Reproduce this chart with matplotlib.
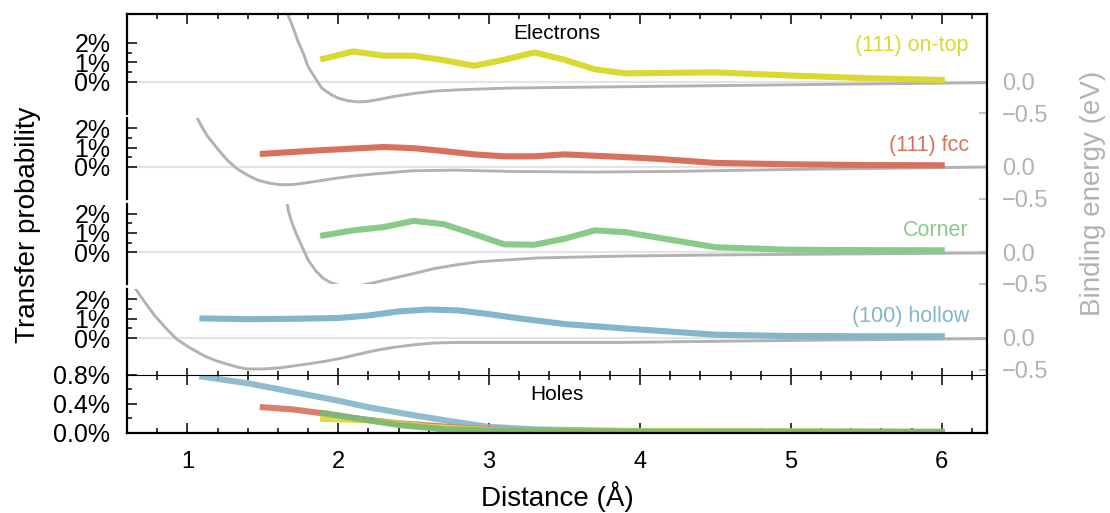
import matplotlib
matplotlib.use("Agg")
import matplotlib.pyplot as plt
from matplotlib.lines import Line2D
from matplotlib.ticker import FixedLocator, FuncFormatter

plt.rcParams['font.family'] = ['Liberation Sans', 'DejaVu Sans']

# ---- data ----
# electron transfer probability (%) vs distance (A)
ontop_x = [1.9, 2.1, 2.3, 2.5, 2.7, 2.9, 3.1, 3.3, 3.5, 3.7, 3.9, 4.5, 5.0, 5.5, 6.0]
ontop_p = [1.18, 1.56, 1.34, 1.34, 1.11, 0.82, 1.13, 1.51, 1.13, 0.64, 0.43, 0.48, 0.32, 0.18, 0.09]

fcc_x = [1.5, 1.9, 2.3, 2.5, 2.7, 2.9, 3.1, 3.3, 3.5, 3.7, 3.9, 4.1, 4.5, 5.0, 5.5, 6.0]
fcc_p = [0.68, 0.87, 1.03, 0.97, 0.82, 0.65, 0.55, 0.55, 0.65, 0.58, 0.51, 0.43, 0.21, 0.14, 0.10, 0.09]

corner_x = [1.9, 2.1, 2.3, 2.5, 2.7, 2.9, 3.1, 3.3, 3.5, 3.7, 3.9, 4.5, 5.0, 5.5, 6.0]
corner_p = [0.87, 1.13, 1.30, 1.62, 1.45, 0.94, 0.41, 0.39, 0.70, 1.13, 1.04, 0.26, 0.13, 0.11, 0.10]

hollow_x = [1.1, 1.4, 1.7, 2.0, 2.2, 2.4, 2.6, 2.8, 3.0, 3.2, 3.5, 3.9, 4.2, 4.5, 5.0, 5.5, 6.0]
hollow_p = [1.01, 0.97, 0.99, 1.03, 1.16, 1.37, 1.47, 1.42, 1.23, 1.01, 0.72, 0.49, 0.33, 0.17, 0.10, 0.09, 0.09]

# binding energy (eV) vs distance
ontop_bx = [1.66, 1.70, 1.73, 1.77, 1.80, 1.85, 1.89, 1.95, 2.00, 2.06, 2.13, 2.20, 2.27,
            2.38, 2.49, 2.63, 2.78, 3.14, 3.51, 4.23, 5.32, 6.30]
ontop_be = [1.10, 0.86, 0.66, 0.44, 0.24, 0.05, -0.10, -0.20, -0.26, -0.30, -0.32, -0.31, -0.28,
            -0.23, -0.19, -0.15, -0.13, -0.10, -0.09, -0.07, -0.04, -0.015]

fcc_bx = [1.06, 1.10, 1.13, 1.17, 1.20, 1.26, 1.33, 1.40, 1.47, 1.55, 1.62, 1.69, 1.76, 1.87,
          1.98, 2.11, 2.24, 2.49, 2.78, 3.14, 3.69, 4.23, 4.96, 6.30]
fcc_be = [0.80, 0.62, 0.50, 0.38, 0.29, 0.12, -0.03, -0.13, -0.21, -0.26, -0.28, -0.28, -0.26, -0.22,
          -0.18, -0.14, -0.11, -0.06, -0.05, -0.07, -0.08, -0.07, -0.04, 0.0]

corner_bx = [1.66, 1.67, 1.69, 1.72, 1.76, 1.80, 1.85, 1.90, 1.95, 2.00, 2.05, 2.09, 2.14, 2.20,
             2.31, 2.42, 2.53, 2.63, 2.78, 2.93, 3.12, 3.32, 3.87, 4.59, 6.30]
corner_be = [0.80, 0.65, 0.49, 0.30, 0.09, -0.12, -0.29, -0.41, -0.48, -0.52, -0.54, -0.54, -0.53,
             -0.50, -0.44, -0.38, -0.32, -0.26, -0.20, -0.15, -0.12, -0.09, -0.06, -0.04, -0.01]

hollow_bx = [0.65, 0.72, 0.785, 0.86, 0.93, 1.02, 1.11, 1.19, 1.26, 1.33, 1.40, 1.51, 1.62,
             1.71, 1.80, 1.91, 2.02, 2.13, 2.24, 2.36, 2.49, 2.63, 2.78, 3.14, 3.87, 4.59, 5.32, 6.30]
hollow_be = [0.80, 0.56, 0.35, 0.15, -0.02, -0.16, -0.28, -0.36, -0.41, -0.46, -0.49, -0.49, -0.47,
             -0.44, -0.41, -0.37, -0.32, -0.26, -0.20, -0.15, -0.11, -0.08, -0.07, -0.07, -0.07,
             -0.05, -0.03, -0.01]

# hole transfer probability (%)
h_hollow_x = [1.1, 1.4, 1.7, 1.9, 2.0, 2.2, 2.5, 2.8, 3.0, 3.3, 3.9, 4.6, 6.0]
h_hollow_p = [0.77, 0.68, 0.56, 0.48, 0.44, 0.35, 0.24, 0.14, 0.08, 0.046, 0.023, 0.014, 0.01]
h_fcc_x = [1.5, 1.7, 1.9, 2.1, 2.4, 2.8, 3.1, 3.9, 6.0]
h_fcc_p = [0.35, 0.32, 0.265, 0.20, 0.13, 0.07, 0.037, 0.018, 0.01]
h_corner_x = [1.9, 2.1, 2.4, 2.7, 3.1, 4.2, 6.0]
h_corner_p = [0.27, 0.205, 0.105, 0.046, 0.023, 0.014, 0.01]
h_ontop_x = [1.9, 2.2, 2.6, 3.1, 6.0]
h_ontop_p = [0.19, 0.17, 0.08, 0.03, 0.01]

YELLOW = '#d9d932'
RED = '#d9705e'
GREEN = '#89ca89'
BLUE = '#84b5ca'
GRAY = '#b2b2b2'

W, H = 1110, 513
LEFT, RIGHT = 127, 987
PX_PCT = 19.4   # pixels per 1 %
PX_EV = 63.2    # pixels per 1 eV
XLIM = (0.6, 6.3)
LW = 4.4

fig = plt.figure(figsize=(W / 100, H / 100), dpi=100)


def box(top, bottom):
    return [LEFT / W, 1 - bottom / H, (RIGHT - LEFT) / W, (bottom - top) / H]


# (top, baseline, bottom) in pixels, per electron panel
panels = [
    (14.0, 81.7, 113.7, ontop_x, ontop_p, ontop_bx, ontop_be, YELLOW, '(111) on-top', 1.88),
    (118.2, 167.0, 199.0, fcc_x, fcc_p, fcc_bx, fcc_be, RED, '(111) fcc', 1.12),
    (203.5, 252.3, 284.3, corner_x, corner_p, corner_bx, corner_be, GREEN, 'Corner', 1.13),
    (289.2, 338.0, 374.5, hollow_x, hollow_p, hollow_bx, hollow_be, BLUE, '(100) hollow', 1.12),
]

pct_fmt = FuncFormatter(lambda v, p: '{:.0f}%'.format(v))
minor_x = [0.6 + 0.2 * k for k in range(29)]

for i, (top, base, bottom, x, p, bx, be, col, name, ly) in enumerate(panels):
    ax = fig.add_axes(box(top, bottom))
    tw = ax.twinx()
    ax.set_zorder(tw.get_zorder() + 1)
    ax.patch.set_visible(False)

    ax.set_xlim(*XLIM)
    ax.set_ylim(-(bottom - base) / PX_PCT, (base - top) / PX_PCT)
    tw.set_ylim(-(bottom - base) / PX_EV, (base - top) / PX_EV)

    tw.axhline(0, color='#e4e4e4', lw=1.6, zorder=0)
    tw.plot(bx, be, color=GRAY, lw=2.1)
    ax.plot(x, p, color=col, lw=LW)
    ax.text(6.18, ly, name, color=col, ha='right', va='center', fontsize=15.5)

    # spines
    for s in ['top', 'bottom', 'right']:
        ax.spines[s].set_visible(False)
    ax.spines['left'].set_linewidth(1.6)
    for s in ['top', 'bottom', 'left', 'right']:
        tw.spines[s].set_visible(False)
    if i == 0:
        ax.spines['top'].set_visible(True)
        ax.spines['top'].set_linewidth(1.6)

    # left ticks
    ax.yaxis.set_major_locator(FixedLocator([0, 1, 2]))
    ax.yaxis.set_minor_locator(FixedLocator([0.5, 1.5]))
    ax.yaxis.set_major_formatter(pct_fmt)
    ax.tick_params(axis='y', which='major', direction='in', length=7, width=1.1,
                   labelsize=18, pad=12)
    ax.tick_params(axis='y', which='minor', direction='in', length=3.6, width=1.1)

    # right ticks
    tw.set_yticks([-0.5, 0.0])
    tw.tick_params(axis='y', direction='in', length=6, width=1.1, color=GRAY,
                   labelcolor=GRAY, labelsize=17, pad=11)

    # x ticks
    ax.xaxis.set_major_locator(FixedLocator([1, 2, 3, 4, 5, 6]))
    ax.xaxis.set_minor_locator(FixedLocator(minor_x))
    if i == 0:
        ax.tick_params(axis='x', which='both', bottom=False, top=True, labelbottom=False,
                       direction='in', width=1.1)
        ax.tick_params(axis='x', which='major', length=7)
        ax.tick_params(axis='x', which='minor', length=3.6)
        ax.text(0.5, 0.80, 'Electrons', transform=ax.transAxes, ha='center', va='center',
                fontsize=15)
    elif i == 3:
        ax.tick_params(axis='x', which='both', bottom=True, top=False, labelbottom=False,
                       direction='in', width=1.1)
        ax.tick_params(axis='x', which='major', length=5)
        ax.tick_params(axis='x', which='minor', length=3)
    else:
        ax.tick_params(axis='x', which='both', bottom=False, top=False, labelbottom=False)

# continuous right frame line for the electron panels
fig.add_artist(Line2D([RIGHT / W, RIGHT / W], [1 - 14.0 / H, 1 - 374.5 / H],
                      color='black', lw=1.6))

# ---- holes panel ----
hx = fig.add_axes(box(374.5, 432.7))
hx.set_xlim(*XLIM)
hx.set_ylim(0, 0.8)
hx.plot(h_hollow_x, h_hollow_p, color=BLUE, lw=LW, alpha=0.9)
hx.plot(h_fcc_x, h_fcc_p, color=RED, lw=LW, alpha=0.9)
hx.plot(h_ontop_x, h_ontop_p, color=YELLOW, lw=LW, alpha=0.9)
hx.plot(h_corner_x, h_corner_p, color='#7ab87a', lw=LW, alpha=0.9)
hx.text(0.5, 0.66, 'Holes', transform=hx.transAxes, ha='center', va='center', fontsize=15)

hx.yaxis.set_major_locator(FixedLocator([0, 0.4, 0.8]))
hx.yaxis.set_minor_locator(FixedLocator([0.2, 0.6]))
hx.yaxis.set_major_formatter(FuncFormatter(lambda v, p: '{:.1f}%'.format(v)))
hx.tick_params(axis='y', which='major', direction='in', length=7, width=1.1,
               labelsize=18, pad=12)
hx.tick_params(axis='y', which='minor', direction='in', length=3.6, width=1.1)
hx.xaxis.set_major_locator(FixedLocator([1, 2, 3, 4, 5, 6]))
hx.xaxis.set_minor_locator(FixedLocator(minor_x))
hx.tick_params(axis='x', which='both', top=True, bottom=True, direction='in', width=1.1)
hx.tick_params(axis='x', which='major', length=7, labelsize=17, pad=13)
hx.tick_params(axis='x', which='minor', length=3.6)
hx.spines['top'].set_linewidth(0.8)
for s in ['bottom', 'left', 'right']:
    hx.spines[s].set_linewidth(1.6)

# ---- labels ----
fig.text(28 / W, 1 - 225 / H, 'Transfer probability', rotation=90, ha='center', va='center',
         fontsize=20)
fig.text(1093 / W, 1 - 193 / H, 'Binding energy (eV)', rotation=90, ha='center', va='center',
         fontsize=20, color=GRAY)
fig.text(557 / W, 1 - 497 / H, 'Distance (Å)', ha='center', va='center', fontsize=20)

fig.savefig('out.png', dpi=100)
